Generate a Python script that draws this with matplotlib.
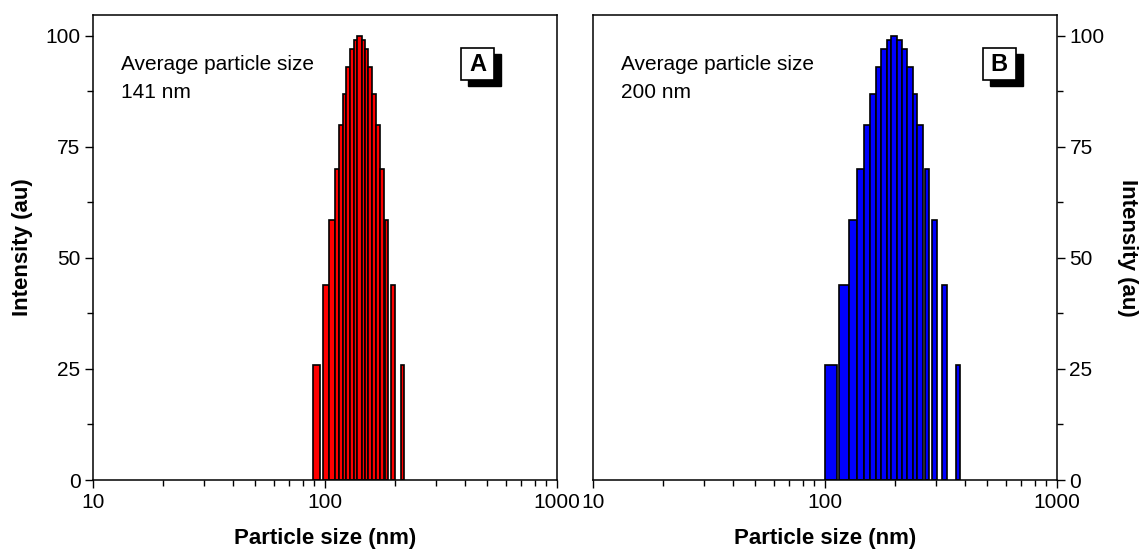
import matplotlib
matplotlib.use("Agg")
import matplotlib.pyplot as plt
from matplotlib.patches import Rectangle
from matplotlib.ticker import FixedLocator, NullFormatter

plt.rcParams['font.family'] = ['Liberation Sans', 'DejaVu Sans']

# Panel A: particle size bins (nm), bar widths (nm), intensity (au)
size_a = [91.65, 100.6, 107.25, 112.6, 117.05, 121.4, 125.85, 130.65, 135.55, 141.0,
          146.35, 151.1, 156.3, 162.2, 168.9, 175.9, 184.35, 197.0, 215.8]
width_a = [6.5, 6.0, 5.9, 4.8, 4.1, 4.6, 4.3, 5.3, 4.5, 6.4,
           4.3, 5.2, 5.2, 6.6, 6.8, 7.2, 6.3, 8.0, 6.8]
intensity_a = [26, 44, 58.5, 70, 80, 87, 93, 97, 99, 100,
               99, 97, 93, 87, 80, 70, 58.5, 44, 26]

# Panel B
size_b = [106.15, 121.25, 132.55, 142.5, 151.75, 161.15, 170.15, 179.3, 188.35, 198.6,
          209.45, 220.25, 232.5, 244.2, 256.65, 276.0, 295.95, 326.25, 374.5]
width_b = [12.3, 12.1, 10.5, 9.4, 9.1, 9.7, 8.3, 10.0, 8.1, 12.4,
           9.3, 12.3, 12.2, 11.2, 13.7, 11.7, 14.7, 16.1, 14.8]
intensity_b = [26, 44, 58.5, 70, 80, 87, 93, 97, 99, 100,
               99, 97, 93, 87, 80, 70, 58.5, 44, 26]

xticks = [10, 100, 1000]
xtick_labels = ["10", "100", "1000"]
yticks = [0, 25, 50, 75, 100]
ytick_labels = ["0", "25", "50", "75", "100"]
labels = ["A", "B"]
avg_text = ["Average particle size\n141 nm", "Average particle size\n200 nm"]

W, H = 1141, 552
fig = plt.figure(figsize=(W / 100, H / 100), dpi=100)
axA = fig.add_axes([93 / W, 72 / H, 464 / W, 465 / H])
axB = fig.add_axes([593 / W, 72 / H, 464 / W, 465 / H])

minor_x = [m * 10 ** d for d in (1, 2) for m in range(2, 10)]
minor_y = [12.5, 37.5, 62.5, 87.5]

panels = [
    (axA, size_a, width_a, intensity_a, "#FF0000", "left", labels[0], avg_text[0], 0.8297),
    (axB, size_b, width_b, intensity_b, "#0000FF", "right", labels[1], avg_text[1], 0.875),
]

for ax, size, width, inten, color, side, lab, txt, bx in panels:
    ax.bar(size, inten, width=width, color=color, edgecolor="black", linewidth=1.2, zorder=2)
    ax.set_xscale("log")
    ax.set_xlim(10, 1000)
    ax.set_ylim(0, 104.7)
    ax.xaxis.set_major_locator(FixedLocator(xticks))
    ax.set_xticklabels(xtick_labels)
    ax.xaxis.set_minor_locator(FixedLocator(minor_x))
    ax.xaxis.set_minor_formatter(NullFormatter())
    ax.set_yticks(yticks)
    ax.set_yticklabels(ytick_labels)
    ax.yaxis.set_minor_locator(FixedLocator(minor_y))
    ax.tick_params(axis="both", which="major", direction="out", length=6, width=1,
                   labelsize=15, colors="black", pad=3)
    ax.tick_params(axis="both", which="minor", direction="out", length=4, width=1)
    ax.tick_params(axis="x", which="both", top=False)
    if side == "left":
        ax.tick_params(axis="y", which="both", left=True, right=False, labelleft=True, labelright=False)
        ax.set_ylabel("Intensity (au)", fontsize=16, fontweight="bold", labelpad=9)
    else:
        ax.tick_params(axis="y", which="both", left=False, right=True, labelleft=False, labelright=True)
        ax.yaxis.set_label_position("right")
        ax.set_ylabel("Intensity (au)", fontsize=16, fontweight="bold", rotation=-90, labelpad=24)
    ax.set_xlabel("Particle size (nm)", fontsize=16, fontweight="bold", labelpad=12)
    for s in ax.spines.values():
        s.set_linewidth(1.1)
        s.set_color("black")

    ax.text(13.2, 90.4, txt, fontsize=15, va="center", ha="left", linespacing=1.6)
    # Framed label with drop shadow
    bw, bh = 33 / 464, 32 / 465
    cx, cy = bx, 0.8946
    ax.add_patch(Rectangle((cx - bw / 2 + 7 / 464, cy - bh / 2 - 6 / 465), bw, bh,
                           transform=ax.transAxes, facecolor="black", edgecolor="black",
                           zorder=4, clip_on=False))
    ax.add_patch(Rectangle((cx - bw / 2, cy - bh / 2), bw, bh,
                           transform=ax.transAxes, facecolor="white", edgecolor="black",
                           linewidth=1.2, zorder=5, clip_on=False))
    ax.text(cx, cy, lab, transform=ax.transAxes, fontsize=17, fontweight="bold",
            ha="center", va="center", zorder=6)

fig.savefig("out.png", dpi=100)
